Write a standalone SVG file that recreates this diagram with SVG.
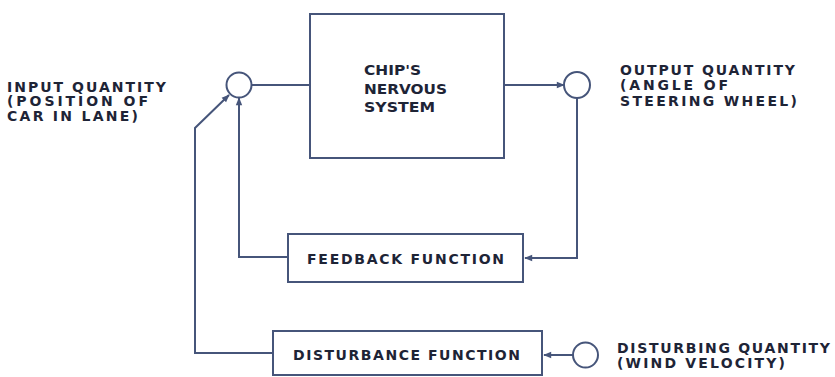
<svg xmlns="http://www.w3.org/2000/svg" width="835" height="377" viewBox="0 0 835 377">
<defs>
<style>
.box{fill:#fff;stroke:#46557a;stroke-width:2}
.ln{fill:none;stroke:#46557a;stroke-width:2}
.t{font-family:"DejaVu Sans","Liberation Sans",Arial,sans-serif;font-weight:bold;font-size:14px;fill:#1e2436}
</style>
<marker id="ah" viewBox="0 0 10 10" refX="9" refY="5" markerWidth="9" markerHeight="8" markerUnits="userSpaceOnUse" orient="auto">
<path d="M0,1 L10,5 L0,9 z" fill="#46557a"/>
</marker>
</defs>
<rect width="835" height="377" fill="#fff"/>
<g id="connectors">
<line class="ln" x1="252" y1="85" x2="310" y2="85"/>
<line class="ln" x1="504" y1="85" x2="564" y2="85" marker-end="url(#ah)"/>
<polyline class="ln" points="577,98 577,258 525,258" marker-end="url(#ah)"/>
<polyline class="ln" points="288,257 239,257 239,98" marker-end="url(#ah)"/>
<polyline class="ln" points="273,353 195,353 195,128 229,95" marker-end="url(#ah)"/>
<line class="ln" x1="573" y1="355" x2="544" y2="355" marker-end="url(#ah)"/>
</g>
<g id="sum-in"><circle class="box" cx="239" cy="85" r="12.5"/></g>
<g id="nervous-system">
<rect class="box" x="310" y="14" width="194" height="144"/>
<text class="t" font-size="15" x="364" y="75" textLength="57" lengthAdjust="spacingAndGlyphs">CHIP'S</text>
<text class="t" font-size="15" x="364" y="93.5" textLength="83" lengthAdjust="spacingAndGlyphs">NERVOUS</text>
<text class="t" font-size="15" x="364" y="112" textLength="71" lengthAdjust="spacingAndGlyphs">SYSTEM</text>
</g>
<g id="sum-out"><circle class="box" cx="577" cy="85" r="13"/></g>
<g id="feedback">
<rect class="box" x="288" y="234" width="235" height="48"/>
<text class="t" x="307" y="263.5" textLength="197" lengthAdjust="spacing">FEEDBACK FUNCTION</text>
</g>
<g id="disturbance">
<rect class="box" x="273" y="331" width="269" height="44"/>
<text class="t" x="293" y="360" textLength="227" lengthAdjust="spacing">DISTURBANCE FUNCTION</text>
</g>
<g id="dist-source"><circle class="box" cx="585.5" cy="355" r="12.5"/></g>
<g id="input-label">
<text class="t" x="7" y="91.5" textLength="159" lengthAdjust="spacing">INPUT QUANTITY</text>
<text class="t" x="7" y="106" textLength="141" lengthAdjust="spacing">(POSITION OF</text>
<text class="t" x="7" y="120.5" textLength="131" lengthAdjust="spacing">CAR IN LANE)</text>
</g>
<g id="output-label">
<text class="t" x="620" y="75" textLength="175" lengthAdjust="spacing">OUTPUT QUANTITY</text>
<text class="t" x="620" y="90" textLength="108" lengthAdjust="spacing">(ANGLE OF</text>
<text class="t" x="620" y="105.5" textLength="177" lengthAdjust="spacing">STEERING WHEEL)</text>
</g>
<g id="disturbing-label">
<text class="t" x="617" y="352.5" textLength="213" lengthAdjust="spacing">DISTURBING QUANTITY</text>
<text class="t" x="617" y="368" textLength="168" lengthAdjust="spacing">(WIND VELOCITY)</text>
</g>
</svg>
